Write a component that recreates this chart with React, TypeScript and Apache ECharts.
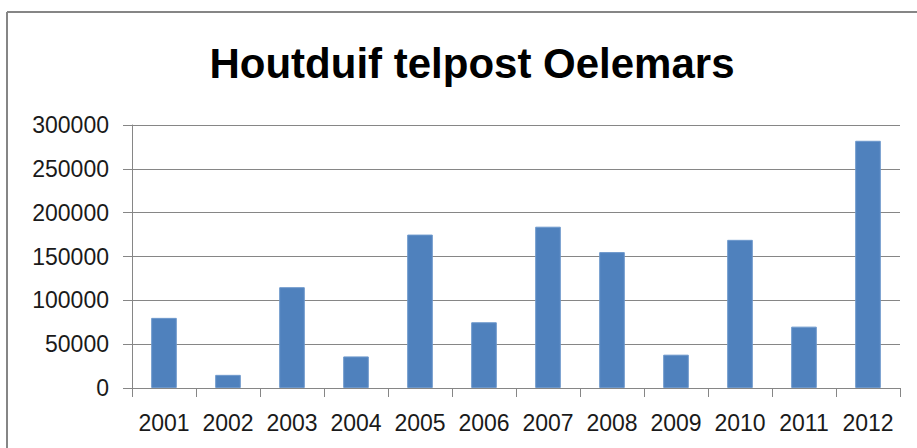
import React, { useEffect, useRef } from "react";
import * as echarts from "echarts";

const categories = ["2001", "2002", "2003", "2004", "2005", "2006", "2007", "2008", "2009", "2010", "2011", "2012"];
const values = [80000, 15000, 115000, 36000, 175000, 75000, 184000, 155000, 38000, 169000, 70000, 282000];
const titleText = "Houtduif telpost Oelemars";

export default function App() {
  const ref = useRef<HTMLDivElement>(null);
  useEffect(() => {
    if (!ref.current) return;
    const chart = echarts.init(ref.current, null, { renderer: "svg" });
    const font = "'Liberation Sans', Arial, sans-serif";
    chart.setOption({
      animation: false,
      backgroundColor: "#ffffff",
      title: {
        text: titleText,
        left: 467,
        textAlign: "center",
        top: 37,
        textStyle: { fontFamily: font, fontSize: 42, fontWeight: "bold", color: "#000000" },
      },
      graphic: [
        { type: "line", shape: { x1: 7, y1: 12, x2: 917, y2: 12 }, style: { stroke: "#868686", lineWidth: 2 } },
        { type: "line", shape: { x1: 7, y1: 12, x2: 7, y2: 448 }, style: { stroke: "#868686", lineWidth: 2 } },
      ],
      grid: { left: 132, right: 17, top: 125, bottom: 60, containLabel: false },
      xAxis: {
        type: "category",
        data: categories,
        axisLine: { lineStyle: { color: "#868686", width: 1 } },
        axisTick: { show: true, length: 9, interval: 0, alignWithLabel: false, lineStyle: { color: "#868686" } },
        axisLabel: { fontFamily: font, fontSize: 23, color: "#1a1a1a", margin: 23, interval: 0 },
      },
      yAxis: {
        type: "value",
        min: 0,
        max: 300000,
        interval: 50000,
        axisLine: { show: true, lineStyle: { color: "#868686", width: 1 } },
        axisTick: { show: true, length: 9, lineStyle: { color: "#868686" } },
        axisLabel: {
          fontFamily: font,
          fontSize: 23,
          color: "#1a1a1a",
          margin: 23,
          formatter: (v: number) => String(v),
        },
        splitLine: { show: true, lineStyle: { color: "#868686", width: 1 } },
      },
      series: [
        {
          type: "bar",
          data: values,
          barWidth: "40%",
          itemStyle: { color: "#4F81BD", borderColor: "#6d98cc", borderWidth: 1 },
        },
      ],
    });
    return () => chart.dispose();
  }, []);
  return (
    <div
      ref={ref}
      style={{ position: "absolute", left: 0, top: 0, width: 917, height: 448 }}
    />
  );
}
